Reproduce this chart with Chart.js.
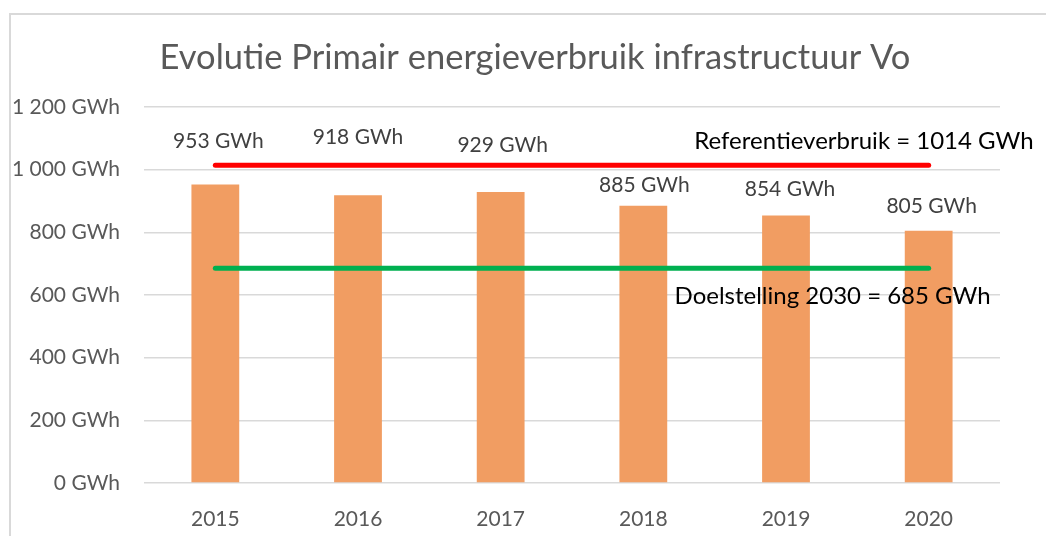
<!DOCTYPE html>
<html>
<head>
<meta charset="utf-8">
<script src="https://cdn.jsdelivr.net/npm/chart.js@4/dist/chart.umd.min.js"></script>
<style>
  html, body { margin: 0; padding: 0; background: #fff; }
  #wrap { position: relative; width: 1046px; height: 536px; overflow: hidden; }
  #frame { position: absolute; left: 9px; top: 13px; width: 1100px; height: 600px;
           border-left: 2px solid #d9d9d9; border-top: 2px solid #d9d9d9; }
  canvas { position: absolute; left: 0; top: 0; }
</style>
</head>
<body>
<div id="wrap">
  <div id="frame"></div>
  <canvas id="chart" width="1046" height="536"></canvas>
</div>
<script>
// Data
const chartTitle = 'Evolutie Primair energieverbruik infrastructuur Vo';
const years = ['2015', '2016', '2017', '2018', '2019', '2020'];
const primaryUse = [953, 918, 929, 885, 854, 805];
const referenceUse = 1014;
const target2030 = 685;
const yTicks = [0, 200, 400, 600, 800, 1000, 1200];

// label placement (px, relative to bar top) - hand placed in the original
const labelOffsets = [[3, -43], [0, -58], [2, -47], [1, -20], [4, -26], [3, -25]];

const FONT = 'Lato, "Open Sans", sans-serif';

function fmtTick(v) {
  return String(v).replace(/\B(?=(\d{3})+(?!\d))/g, ' ') + ' GWh';
}

const labelsPlugin = {
  id: 'barLabels',
  afterDatasetsDraw(chart) {
    const ctx = chart.ctx;
    ctx.save();
    ctx.textBaseline = 'middle';

    // title, centred on the frame
    ctx.font = '34.5px ' + FONT;
    ctx.fillStyle = '#595959';
    ctx.textAlign = 'center';
    ctx.fillText(chartTitle, 535, 58);

    const meta = chart.getDatasetMeta(0);
    ctx.font = '21px ' + FONT;
    ctx.fillStyle = '#404040';
    meta.data.forEach((bar, i) => {
      const [dx, dy] = labelOffsets[i];
      ctx.fillText(primaryUse[i] + ' GWh', bar.x + dx, bar.y + dy);
    });

    // line captions, anchored to the right end of each line
    ctx.font = '24px ' + FONT;
    ctx.fillStyle = '#000';
    ctx.textAlign = 'right';
    const refMeta = chart.getDatasetMeta(1);
    const refEnd = refMeta.data[refMeta.data.length - 1];
    ctx.fillText('Referentieverbruik = ' + referenceUse + ' GWh', refEnd.x + 105, refEnd.y - 24);
    const tgtMeta = chart.getDatasetMeta(2);
    const tgtEnd = tgtMeta.data[tgtMeta.data.length - 1];
    ctx.fillText('Doelstelling 2030 = ' + target2030 + ' GWh', tgtEnd.x + 62, tgtEnd.y + 28);
    ctx.restore();
  }
};

new Chart(document.getElementById('chart'), {
  type: 'bar',
  data: {
    labels: years,
    datasets: [
      {
        label: 'Primair energieverbruik',
        data: primaryUse,
        backgroundColor: '#f19d62',
        barPercentage: 0.67,
        categoryPercentage: 0.5,
        order: 2
      },
      {
        type: 'line',
        label: 'Referentieverbruik',
        data: years.map(() => referenceUse),
        borderColor: '#ff0000',
        borderWidth: 5,
        borderCapStyle: 'round',
        pointRadius: 0,
        order: 1
      },
      {
        type: 'line',
        label: 'Doelstelling 2030',
        data: years.map(() => target2030),
        borderColor: '#00b050',
        borderWidth: 5,
        borderCapStyle: 'round',
        pointRadius: 0,
        order: 1
      }
    ]
  },
  options: {
    responsive: false,
    animation: false,
    layout: { padding: { left: 0, right: 46, top: 107, bottom: 0 } },
    plugins: {
      legend: { display: false },
      tooltip: { enabled: false },
      title: { display: false }
    },
    scales: {
      x: {
        afterFit(axis) { axis.height = 53; },
        grid: { display: false },
        border: { display: false },
        ticks: { color: '#595959', font: { family: FONT, size: 21 }, padding: 16 }
      },
      y: {
        min: 0,
        max: 1200,
        afterBuildTicks(axis) { axis.ticks = yTicks.map(v => ({ value: v })); },
        afterFit(axis) { axis.width = 144; },
        grid: { color: '#d9d9d9', lineWidth: 1.5, drawTicks: false },
        border: { display: false },
        ticks: {
          color: '#595959',
          font: { family: FONT, size: 21 },
          padding: 24,
          callback: v => fmtTick(v)
        }
      }
    }
  },
  plugins: [labelsPlugin]
});
</script>
</body>
</html>
